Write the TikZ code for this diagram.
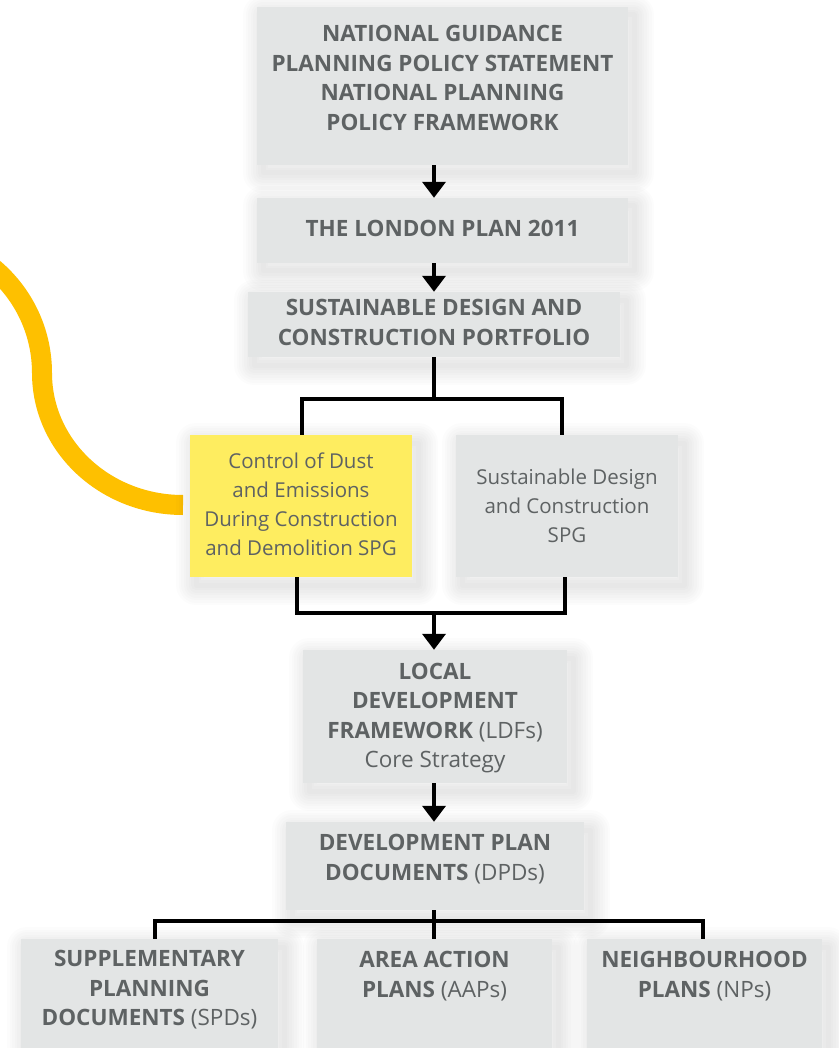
\documentclass[tikz,border=0pt]{standalone}
\usepackage{fontspec}
\setmainfont{Open Sans}
\usetikzlibrary{arrows.meta}
\definecolor{boxgray}{RGB}{227,229,229}
\definecolor{boxyel}{RGB}{254,237,96}
\definecolor{txtgray}{RGB}{94,98,99}
\definecolor{curvey}{RGB}{254,192,0}
\tikzset{
  shlayer/.style={preaction={draw=black,opacity=0.011,line width=#1,line join=round,transform canvas={shift={(6pt,-8pt)}}}},
}
\begin{document}
\begin{tikzpicture}[x=1pt,y=-1pt,
  shd/.style={shlayer=40pt,shlayer=35pt,shlayer=30pt,shlayer=25pt,shlayer=20pt,shlayer=15pt,shlayer=10pt,shlayer=5pt},
  gbox/.style={shd, fill=boxgray, draw=none, inner sep=0pt},
  ybox/.style={shd, fill=boxyel, draw=none, inner sep=0pt},
  txt/.style={text=txtgray, align=center, inner sep=0pt},
  btxt/.style={txt, font=\fontsize{22.5}{29.5}\selectfont\bfseries},
  rtxt/.style={txt, font=\fontsize{20.5}{29}\selectfont},
  conn/.style={draw=black, line width=3.8pt},
  arr/.style={conn, -{Triangle[width=23pt,length=16pt]}}]
\useasboundingbox (0,0) rectangle (839,1048);
\clip (0,0) rectangle (839,1048);
\fill[white] (0,0) rectangle (839,1048);

% yellow curve
\draw[curvey, line width=20pt] (-95,236) .. controls (-19.4,236) and (42,297.4) .. (42,373)
  .. controls (42,446) and (105,505) .. (183,505);

% boxes
\node[gbox, minimum width=371, minimum height=158] (n1) at (442.5,86) {};
\node[gbox, minimum width=371, minimum height=65] (n2) at (442.5,230.5) {};
\node[gbox, minimum width=372, minimum height=65] (n3) at (434,324.5) {};
\node[ybox, minimum width=222, minimum height=142] (ny) at (301,506) {};
\node[gbox, minimum width=222, minimum height=142] (ng) at (567,506) {};
\node[gbox, minimum width=264, minimum height=133] (n4) at (435,716.5) {};
\node[gbox, minimum width=298, minimum height=88] (n5) at (435,866) {};
\node[gbox, minimum width=257, minimum height=131] (b1) at (149.5,1004.5) {};
\node[gbox, minimum width=235, minimum height=131] (b2) at (434.5,1004.5) {};
\node[gbox, minimum width=235, minimum height=131] (b3) at (704.5,1004.5) {};

% texts
\node[btxt] (t1) at (442.5,78) {NATIONAL GUIDANCE\\PLANNING POLICY STATEMENT\\NATIONAL PLANNING\\POLICY FRAMEWORK};
\node[btxt] (t2) at (442.5,228) {THE LONDON PLAN 2011};
\node[btxt] (t3) at (434,322.5) {SUSTAINABLE DESIGN AND\\CONSTRUCTION PORTFOLIO};
\node[rtxt] (ty) at (301,504) {Control of Dust\\and Emissions\\During Construction\\and Demolition SPG};
\node[rtxt] (tg) at (567,506) {Sustainable Design\\and Construction\\SPG};
\node[btxt] (t4) at (435,718) {LOCAL\\DEVELOPMENT\\FRAMEWORK {\mdseries(LDFs)}\\{\mdseries Core Strategy}};
\node[btxt] (t5) at (435,859) {DEVELOPMENT PLAN\\DOCUMENTS {\mdseries(DPDs)}};
\node[btxt] (tb1) at (149.5,990) {SUPPLEMENTARY\\PLANNING\\DOCUMENTS {\mdseries(SPDs)}};
\node[btxt] (tb2) at (434.5,976) {AREA ACTION\\PLANS {\mdseries(AAPs)}};
\node[btxt] (tb3) at (704.5,976) {NEIGHBOURHOOD\\PLANS {\mdseries(NPs)}};

% connectors
\coordinate (j1) at (434,399);
\coordinate (c1) at (302,399);
\coordinate (c2) at (562,399);
\coordinate (j2) at (434,613);
\coordinate (c3) at (297,613);
\coordinate (c4) at (565,613);
\coordinate (c5) at (155,921);
\coordinate (c6) at (703,921);
\draw[arr] (n1.south -| j1) -- (n2.north -| j1);
\draw[arr] (n2.south -| j1) -- (n3.north -| j1);
\draw[conn] (n3.south -| j1) -- (j1);
\draw[conn] (ny.north -| c1) -- (c1) -- (c2) -- (ng.north -| c2);
\draw[conn] (ny.south -| c3) -- (c3) -- (c4) -- (ng.south -| c4);
\draw[arr] (j2) -- (n4.north -| j2);
\draw[arr] (n4.south -| j2) -- (n5.north -| j2);
\draw[conn] (b1.north -| c5) -- (c5) -- (c6) -- (b3.north -| c6);
\draw[conn] (n5.south -| j2) -- (b2.north -| j2);
\end{tikzpicture}
\end{document}
